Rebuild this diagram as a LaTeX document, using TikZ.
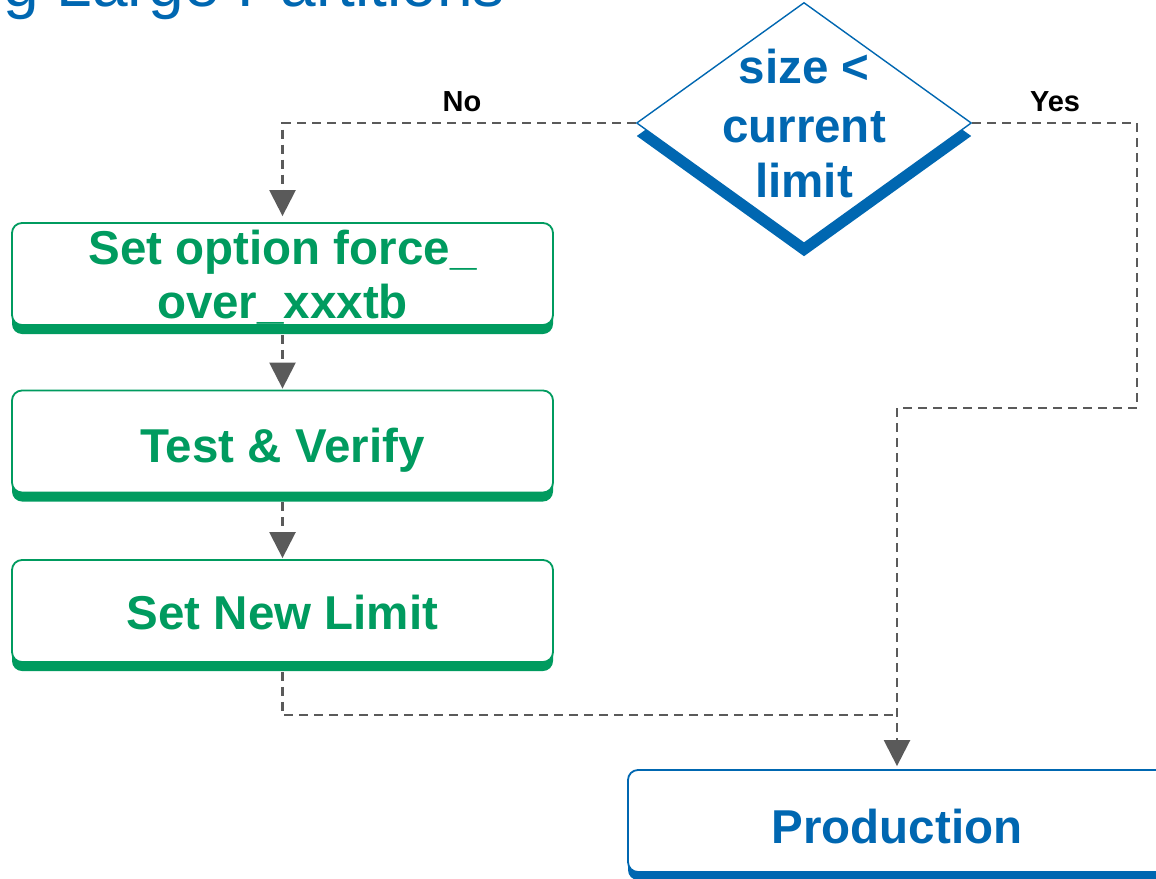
\documentclass[tikz,border=0pt]{standalone}
\usepackage{fontspec}
\setmainfont{Liberation Sans}
\usetikzlibrary{arrows.meta,shapes.geometric,shadows}
\definecolor{dblue}{HTML}{0067B1}
\definecolor{dgreen}{HTML}{009B5F}
\definecolor{dgray}{HTML}{5A5A5A}
\begin{document}
\begin{tikzpicture}[x=1pt,y=-1pt,
  greenbox/.style={draw=dgreen, line width=1.8pt, fill=white, rounded corners=10pt,
    minimum width=541pt, minimum height=102pt, inner sep=0pt,
    drop shadow={shadow xshift=0pt, shadow yshift=-9pt, fill=dgreen, opacity=1}},
  bluebox/.style={draw=dblue, line width=1.8pt, fill=white, rounded corners=10pt,
    minimum width=538pt, minimum height=102pt, inner sep=0pt,
    drop shadow={shadow xshift=0pt, shadow yshift=-8pt, fill=dblue, opacity=1}},
  decision/.style={diamond, draw=dblue, line width=1.4pt, fill=white, inner sep=0pt,
    minimum width=335pt, minimum height=241pt,
    drop shadow={shadow xshift=0pt, shadow yshift=-13pt, fill=dblue, opacity=1}},
  bigtxt/.style={anchor=base, inner sep=0pt, font=\fontsize{47.5}{56}\selectfont\bfseries},
  lbl/.style={anchor=base, inner sep=0pt, font=\fontsize{29}{34}\selectfont\bfseries, text=black},
  conn/.style={draw=dgray, line width=2.5pt, dash pattern=on 9pt off 6pt,
    -{Triangle[width=26pt,length=26pt]}},
  connplain/.style={draw=dgray, line width=2.5pt, dash pattern=on 9pt off 6pt}
]
\useasboundingbox (0,0) rectangle (1156,878);
\clip (0,0) rectangle (1156,878);

% title (cut off at the top edge, as in the reference)
\node[anchor=base west, inner sep=0pt, text=dblue, font=\fontsize{64}{70}\selectfont] (title) at (3,6) {g Large Partitions};

% decision
\node[decision] (dia) at (804,123) {};
\node[bigtxt, text=dblue] (d1) at (804,83) {size <};
\node[bigtxt, text=dblue] (d2) at (804,142) {current};
\node[bigtxt, text=dblue] (d3) at (804,197) {limit};

% boxes
\node[greenbox] (b1) at (282.5,274) {};
\node[bigtxt, text=dgreen] (t1a) at (282.5,264) {Set option force\_};
\node[bigtxt, text=dgreen] (t1b) at (282.5,318) {over\_xxxtb};

\node[greenbox] (b2) at (282.5,441.5) {};
\node[bigtxt, text=dgreen] (t2) at (282.5,462) {Test \& Verify};

\node[greenbox] (b3) at (282.5,611) {};
\node[bigtxt, text=dgreen] (t3) at (282.5,629) {Set New Limit};

\node[bluebox] (prod) at (897,821) {};
\node[bigtxt, text=dblue] (t4) at (897,843) {Production};

% labels
\node[lbl] (no) at (462,111) {No};
\node[lbl] (yes) at (1055,111) {Yes};

% connectors
\coordinate (ycorner) at (1137,408);
\coordinate (join) at (897,715);
\draw[conn, shorten >=6pt] (dia.west) -| (b1.north);
\draw[conn, shorten <=9pt, shorten >=1pt] (b1.south) -- (b2.north);
\draw[conn, shorten <=9pt, shorten >=1pt] (b2.south) -- (b3.north);
\draw[conn, shorten >=3pt] (dia.east) -| (ycorner) -| (prod.north);
\draw[connplain, shorten <=9pt] (b3.south) |- (join);
\end{tikzpicture}
\end{document}
